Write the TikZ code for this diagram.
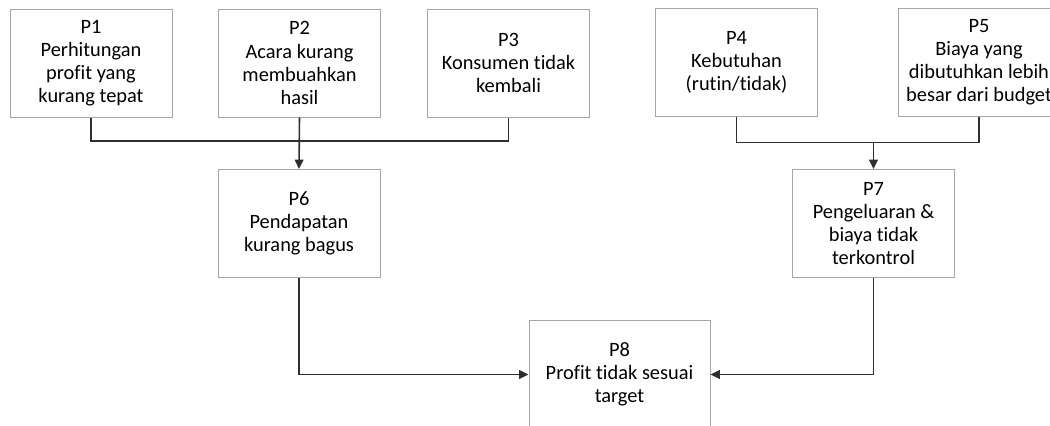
\documentclass[tikz,border=0pt]{standalone}
\usepackage{fontspec}
\setmainfont[Ligatures=NoCommon]{Carlito}
\usetikzlibrary{arrows.meta}
\definecolor{boxgray}{HTML}{A6A6A6}
\definecolor{linegray}{HTML}{2E2E2E}

\begin{document}
\begin{tikzpicture}[x=0.75pt, y=-0.75pt,
    masalah/.style={draw=boxgray, line width=0.75pt, minimum width=121.5pt,
      minimum height=81pt, align=center, inner sep=1pt,
      font=\fontsize{15.3}{17.3}\selectfont},
    hubung/.style={draw=linegray, line width=1.2pt},
    panah/.style={hubung, -{Triangle[length=7pt, width=6.5pt]}}]
  \useasboundingbox (0,0) rectangle (1050,425);

  % Top row
  \node[masalah] (p1) at (91,63) {P1\\Perhitungan\\profit yang\\kurang tepat};
  \node[masalah] (p2) at (299.5,63) {P2\\Acara kurang\\membuahkan\\hasil};
  \node[masalah] (p3) at (508.5,63) {P3\\Konsumen tidak\\kembali};
  \node[masalah] (p4) at (736.5,62.5) {P4\\Kebutuhan\\(rutin/tidak)};
  \node[masalah] (p5) at (979,62.5) {P5\\Biaya yang\\dibutuhkan lebih\\besar dari budget};

  % Middle row
  \node[masalah] (p6) at (299,223.5) {P6\\Pendapatan\\kurang bagus};
  \node[masalah] (p7) at (873.5,223.5) {P7\\Pengeluaran \&\\biaya tidak\\terkontrol};

  % Bottom
  \node[masalah, minimum width=135.75pt] (p8) at (619.5,374.5) {P8\\Profit tidak sesuai\\target};

  % Junctions
  \coordinate (j1) at (299,141);
  \coordinate (j2) at (873.5,142.5);

  % Connectors
  \draw[hubung] (p1.south) |- (j1) -| (p3.south);
  \draw[panah] (p2.south) -- (p6.north);
  \draw[hubung] (p4.south) |- (j2) -| (p5.south);
  \draw[panah] (j2) -- (p7.north);
  \draw[panah] (p6.south) |- (p8.west);
  \draw[panah] (p7.south) |- (p8.east);
\end{tikzpicture}
\end{document}
